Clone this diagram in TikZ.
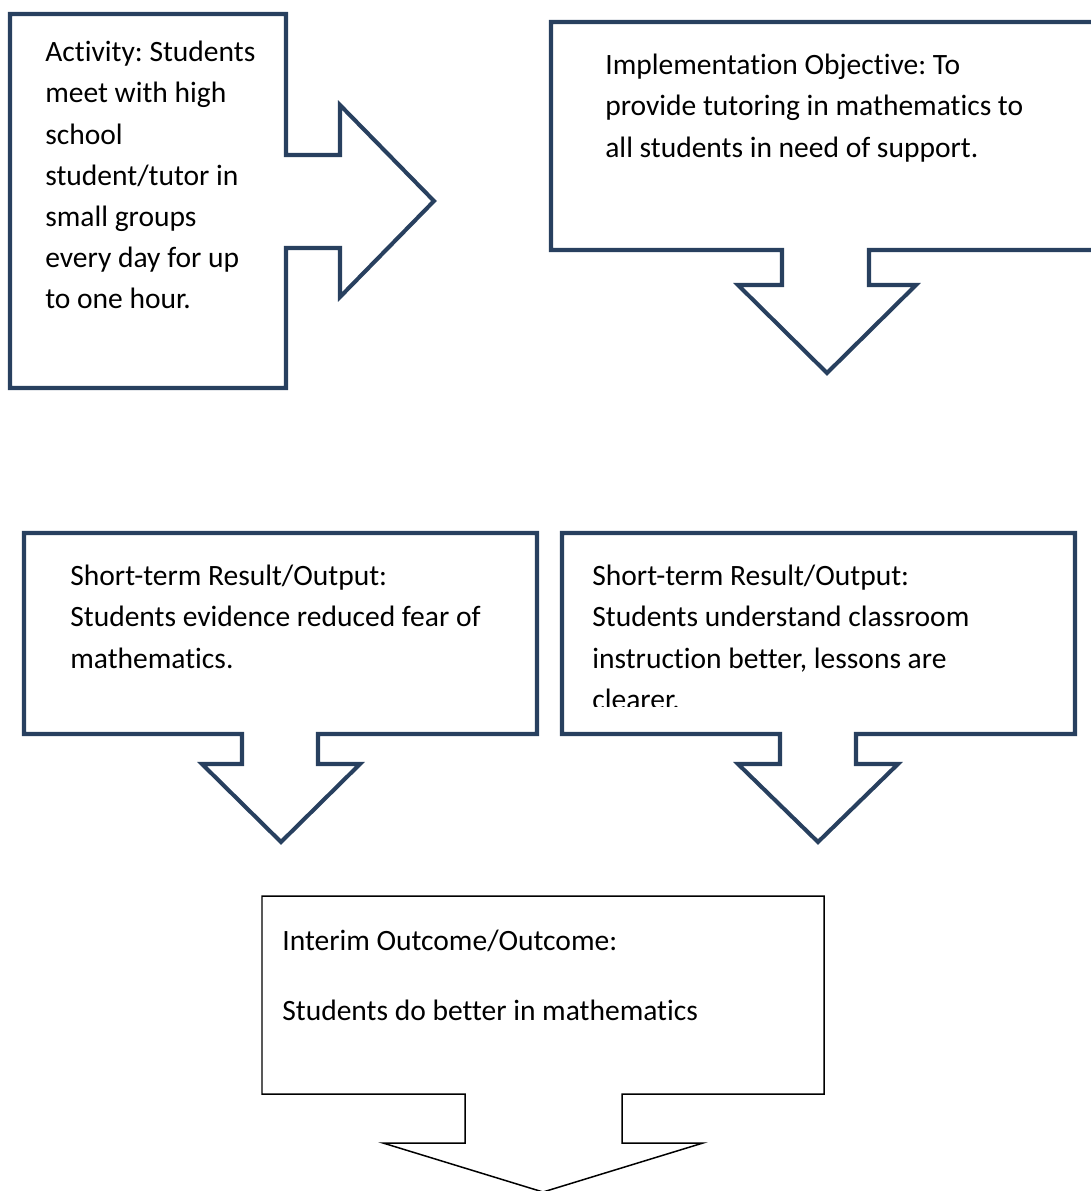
\documentclass[tikz,border=0pt]{standalone}
\usepackage{fontspec}
\setmainfont[Ligatures=NoCommon]{Carlito}
\usepackage{xcolor}
\definecolor{navyline}{HTML}{28405F}
\frenchspacing
\tikzset{
  callout/.style={draw=navyline, line width=2.3pt, line join=miter, fill=white},
  plaincallout/.style={draw=black, line width=0.85pt, line join=miter, fill=white},
  boxtext/.style={anchor=north west, inner sep=0pt, align=left, font=\fontsize{16.8}{23.4}\selectfont}
}

\begin{document}
\begin{tikzpicture}[x=0.02cm, y=-0.02cm]
    \useasboundingbox (0, 0) rectangle (1091, 1191);

    % outlines
    \draw[callout] (10, 14) -- (286, 14) -- (286, 155) -- (340, 155) -- (340, 105) -- (434, 201)
        -- (340, 297) -- (340, 248) -- (286, 248) -- (286, 388) -- (10, 388) -- cycle;
    \draw[callout] (1100, 22) -- (551, 22) -- (551, 250) -- (782, 250) -- (782, 285) -- (738, 285)
        -- (827, 373) -- (916, 285) -- (869, 285) -- (869, 250) -- (1100, 250);
    \draw[callout] (24, 533) -- (537, 533) -- (537, 734) -- (318, 734) -- (318, 764) -- (360, 764)
        -- (281, 842) -- (202, 764) -- (242, 764) -- (242, 734) -- (24, 734) -- cycle;
    \draw[callout] (562, 533) -- (1075, 533) -- (1075, 734) -- (856, 734) -- (856, 764) -- (898, 764)
        -- (818, 842) -- (738, 764) -- (780, 764) -- (780, 734) -- (562, 734) -- cycle;
    \draw[plaincallout] (262, 896) -- (824, 896) -- (824, 1094) -- (622, 1094) -- (622, 1143) -- (703, 1143)
        -- (543, 1192) -- (383, 1143) -- (465, 1143) -- (465, 1094) -- (262, 1094) -- cycle;

    % texts
    \node[boxtext] (activity) at (45, 41) {Activity: Students\\meet with high\\school\\student/tutor in\\small groups\\every day for up\\to one hour.};
    \node[boxtext] (objective) at (605, 54) {Implementation Objective: To\\provide tutoring in mathematics to\\all students in need of support.};
    \node[boxtext] (fear) at (70, 565) {Short-term Result/Output:\\Students evidence reduced fear of\\mathematics.};
    \begin{scope}
      \clip (562, 533) rectangle (1075, 706);
      \node[boxtext] (lessons) at (592, 565) {Short-term Result/Output:\\Students understand classroom\\instruction better, lessons are\\clearer.};
    \end{scope}
    \node[boxtext] (outcome) at (282, 930) {Interim Outcome/Outcome:\\[16.3pt]Students do better in mathematics};
\end{tikzpicture}
\end{document}
